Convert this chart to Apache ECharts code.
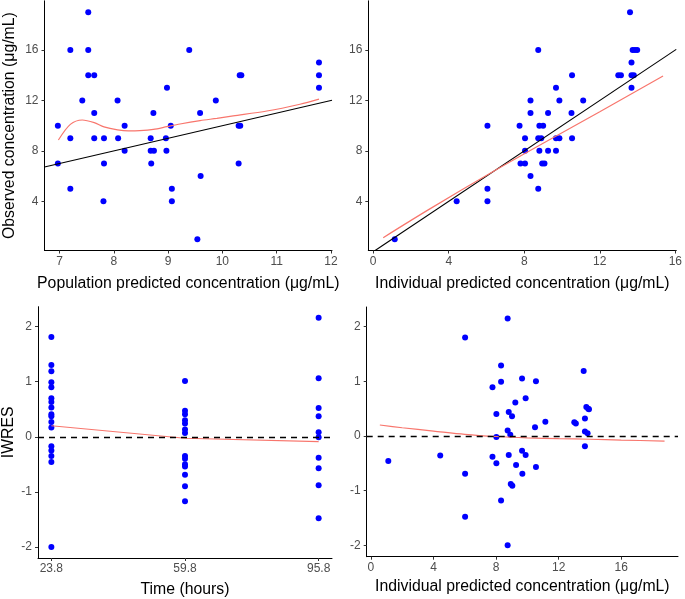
<!DOCTYPE html>
<html>
<head>
<meta charset="utf-8">
<script src="https://cdn.jsdelivr.net/npm/echarts@6/dist/echarts.min.js"></script>
<style>
html,body{margin:0;padding:0;background:#fff;}
#chart{width:685px;height:599px;}
</style>
</head>
<body>
<div id="chart"></div>
<script>
// Panel 1: population predicted vs observed
var pred1 = [6.97,6.97,7.2,7.2,7.2,7.42,7.53,7.53,7.53,7.64,7.64,7.64,7.82,7.82,7.81,8.07,8.08,8.2,8.2,8.68,8.68,8.69,8.74,8.73,8.96,8.97,8.98,9.05,9.07,9.07,9.39,9.54,9.59,9.6,9.88,10.3,10.33,10.3,10.32,10.35,11.78,11.78,11.78];
var dv1   = [10,7,16,9,5,12,19,16,14,14,11,9,9,7,4,12,9,10,8,9,8,7,8,11,9,8,13,10,5,4,16,1,11,6,12,10,10,7,14,14,15,14,13];
var loess1X = [6.98,7.2,7.42,7.64,7.82,8.07,8.27,8.48,8.73,8.98,9.22,9.59,9.9,10.2,10.82,11.43,11.78];
var loess1Y = [8.86,10.1,10.45,10.24,9.9,9.66,9.58,9.6,9.7,9.92,10.13,10.4,10.58,10.77,11.16,11.7,12.1];

// Panel 2: individual predicted vs observed
var ipred2 = [1.14,4.42,6.05,6.05,6.05,7.75,7.8,8.04,8.04,8.04,8.33,8.33,8.33,8.74,8.74,8.74,8.8,8.8,8.9,9.0,8.95,9.07,9.26,9.26,9.68,9.68,9.68,9.86,9.86,10.53,10.5,10.53,11.12,12.98,13.12,13.6,13.68,13.68,13.68,13.8,13.74,13.86,13.98];
var dv2    = [1,4,5,4,10,10,7,7,9,8,12,11,6,16,5,9,10,8,9,10,7,7,11,8,13,9,8,12,9,14,11,9,12,14,14,19,15,14,13,14,16,16,16];
var loess2X = [0.53,3,6.4,9,12,15.35];
var loess2Y = [1.12,3.4,6.4,8.6,11.1,13.94];

// Panel 3: time vs IWRES
var time3  = [23.8,23.8,23.8,23.8,23.8,23.8,23.8,23.8,23.8,23.8,23.8,23.8,23.8,23.8,23.8,23.8,23.8,
              59.8,59.8,59.8,59.8,59.8,59.8,59.8,59.8,59.8,59.8,59.8,59.8,59.8,59.8,
              95.8,95.8,95.8,95.8,95.8,95.8,95.8,95.8,95.8,95.8];
var iwres3 = [1.81,1.30,1.19,0.99,0.90,0.70,0.63,0.53,0.41,0.37,0.27,0.17,-0.17,-0.25,-0.35,-0.46,-2.0,
              1.01,0.47,0.41,0.30,0.24,0.13,0.07,-0.35,-0.40,-0.50,-0.54,-0.69,-0.90,-1.17,
              2.16,1.06,0.52,0.37,0.08,-0.01,-0.38,-0.57,-0.88,-1.48];
var loess3X = [23.8,59.8,95.8];
var loess3Y = [0.2,-0.027,-0.087];
var timeTicks = [23.8,59.8,95.8];

// Panel 4: individual predicted vs IWRES
var ipred4 = [1.11,4.43,6.02,6.02,6.02,7.77,7.77,8.02,8.02,8.02,8.32,8.32,8.32,8.74,8.74,8.74,8.81,8.81,8.91,8.94,9.02,9.04,9.23,9.28,9.66,9.66,9.68,9.89,9.89,10.49,10.55,10.55,11.15,13.0,13.1,13.6,13.68,13.68,13.68,13.77,13.85,13.89,13.94];
var iwres4 = [-0.46,-0.36,1.8,-0.69,-1.48,0.89,-0.38,0.4,-0.02,-0.5,1.29,0.99,-1.18,2.15,0.1,-2.0,0.44,-0.35,0.02,-0.88,0.36,-0.91,0.61,-0.53,1.05,-0.27,-0.69,0.69,-0.35,0.16,1.0,-0.57,0.26,0.25,0.23,1.19,0.32,0.08,-0.19,0.53,0.05,0.5,0.49];
var loess4X = [0.57,2,4,6,8,10,12,14,16,18.77];
var loess4Y = [0.2,0.15,0.09,0.03,-0.01,-0.035,-0.05,-0.06,-0.075,-0.095];

var concTicks = [4,8,12,16];
var ipredTicks = [0,4,8,12,16];
var predTicks = [7,8,9,10,11,12];
var iwresTicks = [-2,-1,0,1,2];

function zip(a,b){return a.map(function(v,i){return [v,b[i]];});}

var FONT = 'Liberation Sans, Arial, sans-serif';
function axis(opt){
  var a = {
    gridIndex: opt.g, type:'value', min: opt.min, max: opt.max,
    name: opt.name, nameLocation:'middle', nameGap: opt.gap,
    nameTextStyle:{fontSize:15.8, color:'#000', fontFamily:FONT},
    axisLine:{show:true, onZero:false, lineStyle:{color:'#000', width:1}},
    axisTick:{show:true, length:3, customValues: opt.ticks, lineStyle:{color:'#333', width:1}},
    axisLabel:{show:true, customValues: opt.ticks, color:'#4D4D4D', fontSize:12, margin: opt.margin, fontFamily:FONT,
      formatter: opt.fmt || function(v){return String(v);}},
    splitLine:{show:false}
  };
  if (opt.rot) a.nameRotate = 90;
  return a;
}

var dotStyle = {color:'#0000FF', opacity:1};
var redLine = {color:'#F8766D', width:1.2};

var option = {
  animation:false,
  textStyle:{fontFamily:FONT},
  grid:[
    {left:44.5, top:0.8, width:287.5, height:249.7},
    {left:368.3, top:0.8, width:309.4, height:249.7},
    {left:38, top:306.7, width:294, height:252.6},
    {left:366.7, top:307, width:311.3, height:249.7}
  ],
  xAxis:[
    axis({g:0, min:6.724, max:12.02, ticks:predTicks, name:'Population predicted concentration (\u03bcg/mL)', gap:25, margin:5}),
    axis({g:1, min:-0.26, max:16.05, ticks:ipredTicks, name:'Individual predicted concentration (\u03bcg/mL)', gap:25, margin:5}),
    axis({g:2, min:20.2, max:99.4, ticks:timeTicks, name:'Time (hours)', gap:24, margin:5, fmt:function(v){return v.toFixed(1);}}),
    axis({g:3, min:-0.27, max:19.63, ticks:ipredTicks, name:'Individual predicted concentration (\u03bcg/mL)', gap:22, margin:5})
  ],
  yAxis:[
    axis({g:0, min:0.1, max:19.9, ticks:concTicks, name:'Observed concentration (\u03bcg/mL)', gap:27, margin:6, rot:true}),
    axis({g:1, min:0.1, max:19.9, ticks:concTicks, name:'', gap:28, margin:6}),
    axis({g:2, min:-2.2, max:2.36, ticks:iwresTicks, name:'IWRES', gap:21, margin:6, rot:true}),
    axis({g:3, min:-2.21, max:2.36, ticks:iwresTicks, name:'', gap:21, margin:6})
  ],
  series:[
    {type:'scatter', xAxisIndex:0, yAxisIndex:0, symbolSize:6, itemStyle:dotStyle, data:zip(pred1,dv1), z:2},
    {type:'line', xAxisIndex:0, yAxisIndex:0, showSymbol:false, symbol:'none', lineStyle:{color:'#000', width:1.1}, data:[[6.724,6.724],[12.02,12.02]], z:3},
    {type:'line', xAxisIndex:0, yAxisIndex:0, showSymbol:false, symbol:'none', smooth:0.3, lineStyle:redLine, data:zip(loess1X,loess1Y), z:4},

    {type:'scatter', xAxisIndex:1, yAxisIndex:1, symbolSize:6, itemStyle:dotStyle, data:zip(ipred2,dv2), z:2},
    {type:'line', xAxisIndex:1, yAxisIndex:1, showSymbol:false, symbol:'none', lineStyle:{color:'#000', width:1.1}, data:[[0.1,0.1],[16.05,16.05]], z:3},
    {type:'line', xAxisIndex:1, yAxisIndex:1, showSymbol:false, symbol:'none', smooth:0.3, lineStyle:redLine, data:zip(loess2X,loess2Y), z:4},

    {type:'scatter', xAxisIndex:2, yAxisIndex:2, symbolSize:6, itemStyle:dotStyle, data:zip(time3,iwres3), z:2,
      markLine:{silent:true, symbol:'none', label:{show:false}, lineStyle:{color:'#000', type:[6,5], width:1.3}, data:[{yAxis:0}]}},
    {type:'line', xAxisIndex:2, yAxisIndex:2, showSymbol:false, symbol:'none', lineStyle:redLine, data:zip(loess3X,loess3Y), z:4},

    {type:'scatter', xAxisIndex:3, yAxisIndex:3, symbolSize:6, itemStyle:dotStyle, data:zip(ipred4,iwres4), z:2,
      markLine:{silent:true, symbol:'none', label:{show:false}, lineStyle:{color:'#000', type:[6,5], width:1.3}, data:[{yAxis:0}]}},
    {type:'line', xAxisIndex:3, yAxisIndex:3, showSymbol:false, symbol:'none', smooth:0.3, lineStyle:redLine, data:zip(loess4X,loess4Y), z:4}
  ]
};
var chart = echarts.init(document.getElementById('chart'), null, {renderer:'canvas'});
chart.setOption(option);
</script>
</body>
</html>
